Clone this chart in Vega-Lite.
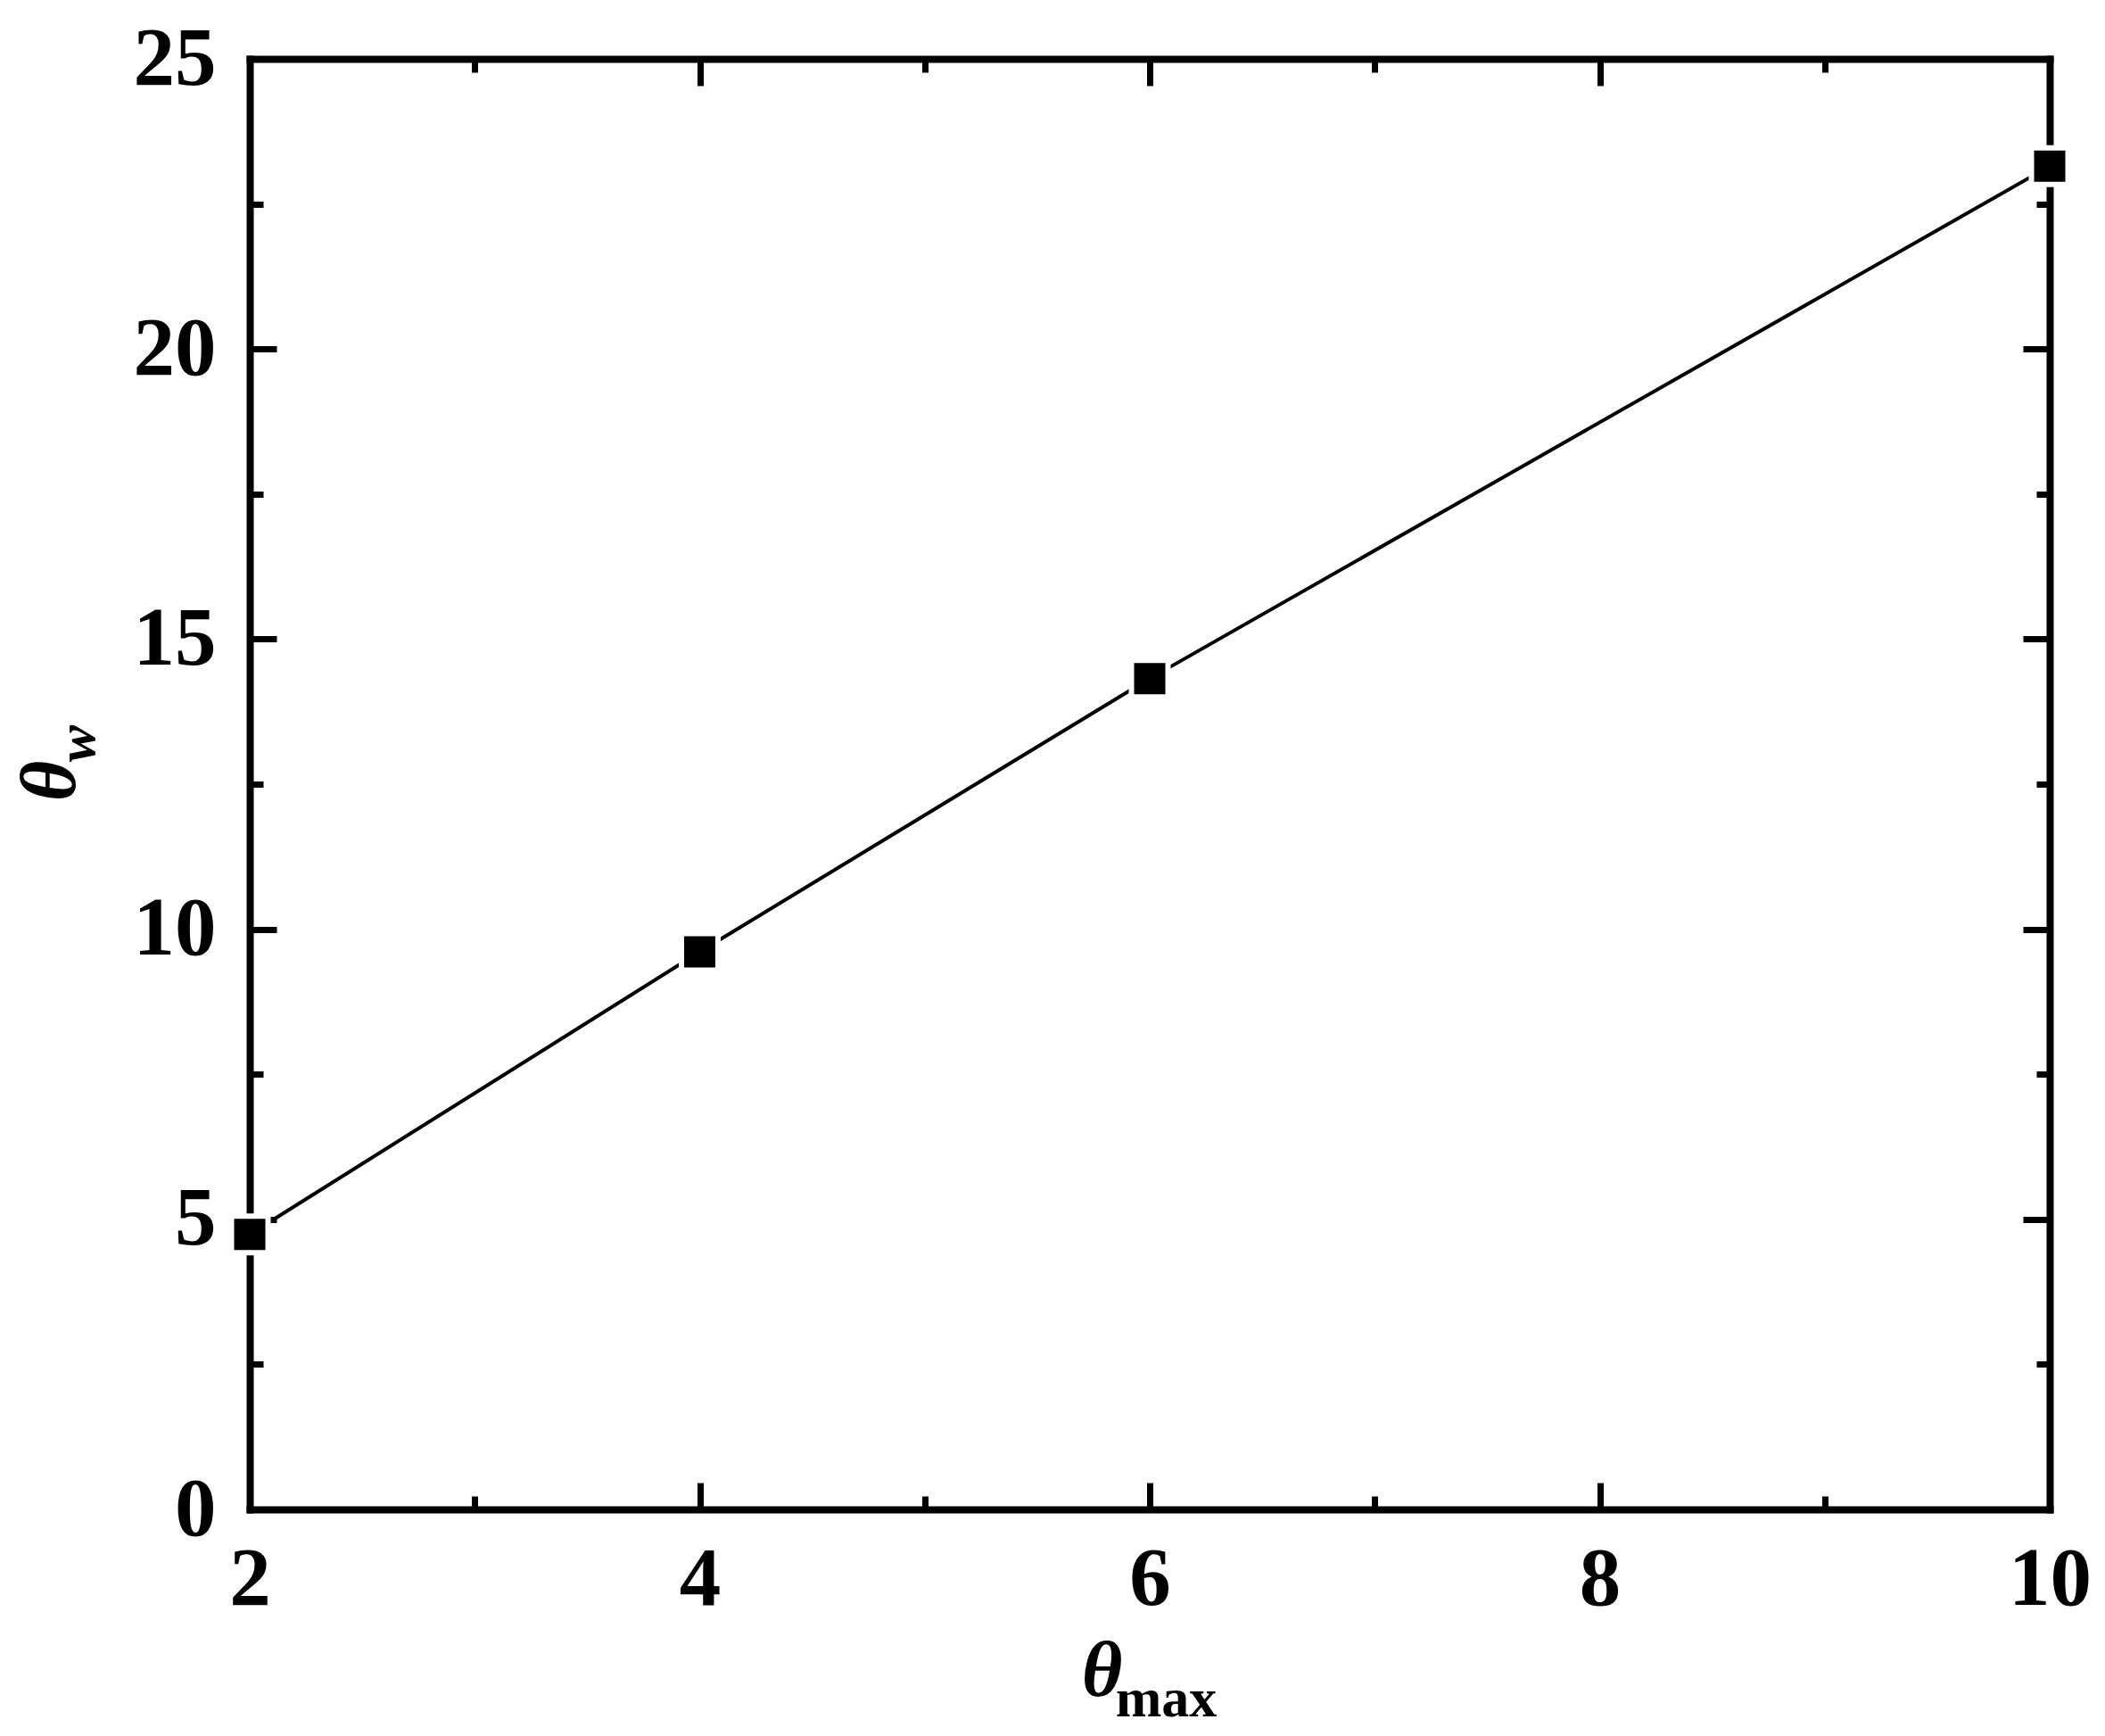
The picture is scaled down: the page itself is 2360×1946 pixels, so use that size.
{
  "$schema": "https://vega.github.io/schema/vega-lite/v6.json",
  "width": 2018,
  "height": 1626,
  "autosize": {"type": "none"},
  "padding": {"left": 280, "top": 66, "right": 62, "bottom": 254},
  "background": "white",
  "config": {
    "view": {"stroke": null},
    "axis": {
      "grid": false,
      "domain": true,
      "domainColor": "black",
      "domainWidth": 8,
      "domainCap": "square",
      "tickColor": "black",
      "tickWidth": 7,
      "labelFont": "Liberation Serif",
      "labelFontWeight": "bold",
      "labelFontSize": 93,
      "labelColor": "black",
      "labelFlush": false,
      "labelBound": false,
      "labelOverlap": false,
      "titleFont": "Liberation Serif",
      "titleFontWeight": "bold",
      "titleFontStyle": "italic",
      "titleColor": "black",
      "zindex": 1
    }
  },
  "data": {
    "values": [
      {"tmax": 2, "tw": 4.74},
      {"tmax": 4, "tw": 9.61},
      {"tmax": 6, "tw": 14.32},
      {"tmax": 10, "tw": 23.15}
    ]
  },
  "layer": [
    {
      "mark": {"type": "line", "color": "black", "strokeWidth": 4},
      "encoding": {
        "x": {
          "field": "tmax", "type": "quantitative",
          "scale": {"domain": [2, 10], "nice": false, "zero": false},
          "axis": {
            "orient": "bottom",
            "values": [2, 3, 4, 5, 6, 7, 8, 9, 10],
            "labelExpr": "datum.value % 2 === 0 ? datum.label : ''",
            "tickSize": {"condition": {"test": "datum.value % 2 === 0", "value": -30}, "value": -15},
            "labelPadding": 63,
            "title": "θ",
            "titleFontSize": 88,
            "titleX": 955,
            "titleY": 208,
            "titleAlign": "center",
            "titleBaseline": "alphabetic"
          }
        },
        "y": {
          "field": "tw", "type": "quantitative",
          "scale": {"domain": [0, 25], "nice": false, "zero": true},
          "axis": {
            "orient": "left",
            "values": [0, 2.5, 5, 7.5, 10, 12.5, 15, 17.5, 20, 22.5, 25],
            "labelExpr": "datum.value % 5 === 0 ? datum.label : ''",
            "tickSize": {"condition": {"test": "datum.value % 5 === 0", "value": -30}, "value": -15},
            "labelPadding": 68,
            "title": "θ",
            "titleFontSize": 88,
            "titleAngle": -90,
            "titleX": -197,
            "titleY": 809,
            "titleAlign": "center",
            "titleBaseline": "alphabetic"
          }
        }
      }
    },
    {
      "mark": {"type": "point", "shape": "square", "filled": true, "color": "white", "opacity": 1, "size": 2209},
      "encoding": {
        "x": {
          "field": "tmax", "type": "quantitative",
          "axis": {
            "orient": "top",
            "values": [2, 3, 4, 5, 6, 7, 8, 9, 10],
            "labels": false,
            "tickSize": {"condition": {"test": "datum.value % 2 === 0", "value": -30}, "value": -15},
            "title": "max",
            "titleFontSize": 62,
            "titleFontStyle": "normal",
            "titleX": 1027,
            "titleY": 1857,
            "titleAlign": "center",
            "titleBaseline": "alphabetic"
          }
        },
        "y": {
          "field": "tw", "type": "quantitative",
          "axis": {
            "orient": "right",
            "values": [0, 2.5, 5, 7.5, 10, 12.5, 15, 17.5, 20, 22.5, 25],
            "labels": false,
            "tickSize": {"condition": {"test": "datum.value % 5 === 0", "value": -30}, "value": -15},
            "title": "w",
            "titleFontSize": 62,
            "titleAngle": -90,
            "titleX": -2193,
            "titleY": 767,
            "titleAlign": "center",
            "titleBaseline": "alphabetic"
          }
        }
      }
    },
    {
      "mark": {"type": "point", "shape": "square", "filled": true, "color": "black", "opacity": 1, "size": 1225},
      "encoding": {
        "x": {"field": "tmax", "type": "quantitative", "axis": null},
        "y": {"field": "tw", "type": "quantitative", "axis": null}
      }
    }
  ],
  "resolve": {"axis": {"x": "independent", "y": "independent"}}
}
